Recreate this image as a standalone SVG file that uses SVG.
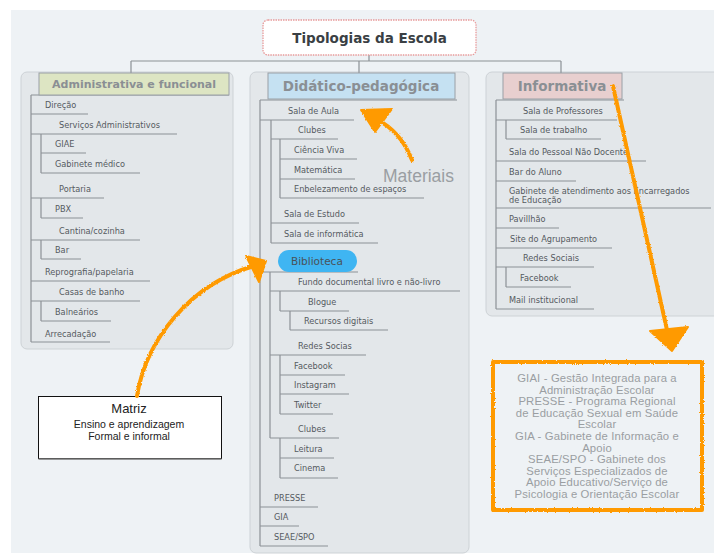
<svg xmlns="http://www.w3.org/2000/svg" width="714" height="554" viewBox="0 0 714 554">
<style>
.bg{fill:#ffffff}
.canvas{fill:#eef2f5}
.panel{fill:#e3e7ea;stroke:#cdd2d6;stroke-width:1}
.ln{stroke:#8c9196;stroke-width:1.2;fill:none}
.it{font-family:"DejaVu Sans","Liberation Sans",sans-serif;font-size:8.2px;fill:#555a5f}
.hd{font-family:"DejaVu Sans","Liberation Sans",sans-serif;font-weight:bold;fill:#8a8f94;text-anchor:middle}
.hbox{stroke:#9aa0a6;stroke-width:1}
.or{stroke:#ff9a00;stroke-width:4;fill:none;stroke-linecap:round;stroke-linejoin:round}
.orf{fill:#ff9a00;stroke:#ff9a00;stroke-width:2;stroke-linejoin:round}
.info{font-family:"Liberation Sans",Arial,sans-serif;font-size:11.3px;letter-spacing:0.15px;fill:#9a9ea2;text-anchor:middle}
.mz{font-family:"Liberation Sans",Arial,sans-serif;fill:#222;text-anchor:middle}
</style>
<defs>
<filter id="rough" filterUnits="userSpaceOnUse" x="0" y="0" width="714" height="554">
<feTurbulence type="fractalNoise" baseFrequency="0.9" numOctaves="2" seed="3" result="n"/>
<feDisplacementMap in="SourceGraphic" in2="n" scale="2.5" xChannelSelector="R" yChannelSelector="G"/>
</filter>
</defs>
<rect class="bg" x="0" y="0" width="714" height="554"/>
<rect class="canvas" x="11" y="10" width="703" height="543"/>

<g id="panels">
<rect class="panel" x="21" y="72" width="212" height="277" rx="6"/>
<rect class="panel" x="250" y="72" width="219" height="481" rx="6"/>
<rect class="panel" x="486" y="72" width="240" height="244" rx="6"/>
</g>

<g id="connectors">
<path class="ln" d="M369,55V61M131,61H561M131,61V73M359,61V73M561,61V73"/>
<path class="ln" d="M31,95H229M31,95V342
M31,114H88M31,134H177M41,134V173M41,153H86M41,173H140
M31,198H104M41,198V218M41,218H83
M31,240H140M41,240V259M41,259H81
M31,281H150M31,301H140M41,301V321M41,321H111M31,342H110"/>
<path class="ln" d="M260,100H457M260,100V546
M260,120H354M271,120V243M271,139H338M280,139V198M280,159H357M280,179H355M280,198H424
M271,223H359M271,243H378
M260,272H358M270,272V438M270,291H460M280,291V311M280,311H349M290,311V330M290,330H388
M270,355H366M280,355V414M280,375H345M280,394H349M280,414H333
M270,438H339M280,438V478M280,458H334M280,478H338
M260,507H318M260,526H299M260,546H328"/>
<path class="ln" d="M496,100H624M496,100V309
M496,120H617M506,120V139M506,139H601
M496,161H646M496,181H576M496,208H711M496,228H559M496,248H612
M496,267H594M506,267V287M506,287H571M496,309H594"/>
</g>

<g id="root">
<rect x="263" y="20" width="213" height="35" rx="5" fill="#ffffff" stroke="#e89a9a" stroke-width="1.3" stroke-dasharray="1.5 1"/>
<text x="369.5" y="42.5" font-family="DejaVu Sans, sans-serif" font-weight="bold" font-size="13.5" fill="#3a3f44" text-anchor="middle">Tipologias da Escola</text>
</g>

<g id="administrativa">
<rect class="hbox" x="39" y="73" width="190" height="22" fill="#dde5c3"/>
<text class="hd" x="134" y="88" font-size="11">Administrativa e funcional</text>
</g>
<g id="didatico">
<rect class="hbox" x="268" y="73" width="187" height="26" fill="#c5e1f2"/>
<text class="hd" x="361" y="91" font-size="13.5">Didático-pedagógica</text>
</g>
<g id="informativa">
<rect class="hbox" x="503" y="73" width="119" height="26" fill="#e8cfcf"/>
<text class="hd" x="562" y="91" font-size="13.5">Informativa</text>
</g>

<g id="admin-items">
<g id="n-direcao"><text class="it" x="45" y="108">Direção</text></g>
<g id="n-servicos"><text class="it" x="59" y="128">Serviços Administrativos</text></g>
<g id="n-giae"><text class="it" x="55" y="147">GIAE</text></g>
<g id="n-gabinete"><text class="it" x="55" y="167">Gabinete médico</text></g>
<g id="n-portaria"><text class="it" x="59" y="192">Portaria</text></g>
<g id="n-pbx"><text class="it" x="55" y="212">PBX</text></g>
<g id="n-cantina"><text class="it" x="59" y="233.5">Cantina/cozinha</text></g>
<g id="n-bar"><text class="it" x="55" y="253">Bar</text></g>
<g id="n-reprografia"><text class="it" x="45" y="275">Reprografia/papelaria</text></g>
<g id="n-casas"><text class="it" x="59" y="295">Casas de banho</text></g>
<g id="n-balnearios"><text class="it" x="55" y="315">Balneários</text></g>
<g id="n-arrecadacao"><text class="it" x="45" y="337">Arrecadação</text></g>
</g>

<g id="didatico-items">
<g id="n-sala-aula"><text class="it" x="288" y="114">Sala de Aula</text></g>
<g id="n-clubes1"><text class="it" x="298" y="133">Clubes</text></g>
<g id="n-ciencia"><text class="it" x="294" y="153">Ciência Viva</text></g>
<g id="n-matematica"><text class="it" x="294" y="173">Matemática</text></g>
<g id="n-enbelezamento"><text class="it" x="294" y="192">Enbelezamento de espaços</text></g>
<g id="n-sala-estudo"><text class="it" x="284" y="217">Sala de Estudo</text></g>
<g id="n-sala-info"><text class="it" x="284" y="237">Sala de informática</text></g>
<g id="n-biblioteca">
<rect x="278" y="250" width="79" height="22" rx="11" fill="#3fb5f2"/>
<text x="291" y="265" font-family="DejaVu Sans, sans-serif" font-size="10.5" fill="#4a5258">Biblioteca</text>
</g>
<g id="n-fundo"><text class="it" x="298" y="285">Fundo documental livro e não-livro</text></g>
<g id="n-blogue"><text class="it" x="308" y="305">Blogue</text></g>
<g id="n-recursos"><text class="it" x="304" y="324">Recursos digitais</text></g>
<g id="n-redes"><text class="it" x="298" y="349">Redes Socias</text></g>
<g id="n-facebook1"><text class="it" x="294" y="369">Facebook</text></g>
<g id="n-instagram"><text class="it" x="294" y="388">Instagram</text></g>
<g id="n-twitter"><text class="it" x="294" y="408">Twitter</text></g>
<g id="n-clubes2"><text class="it" x="298" y="432">Clubes</text></g>
<g id="n-leitura"><text class="it" x="294" y="452">Leitura</text></g>
<g id="n-cinema"><text class="it" x="294" y="471">Cinema</text></g>
<g id="n-presse"><text class="it" x="274" y="501">PRESSE</text></g>
<g id="n-gia"><text class="it" x="274" y="520">GIA</text></g>
<g id="n-seae"><text class="it" x="274" y="540">SEAE/SPO</text></g>
<g id="n-materiais"><text x="383" y="182" font-family="Liberation Sans, Arial, sans-serif" font-size="17.5" fill="#9a9ea2">Materiais</text></g>
</g>

<g id="informativa-items">
<g id="n-professores"><text class="it" x="523" y="114">Sala de Professores</text></g>
<g id="n-trabalho"><text class="it" x="520" y="133">Sala de trabalho</text></g>
<g id="n-pessoal"><text class="it" x="509" y="155">Sala do Pessoal Não Docente</text></g>
<g id="n-bar-aluno"><text class="it" x="509" y="175">Bar do Aluno</text></g>
<g id="n-gab-atend"><text class="it" x="509" y="193.5">Gabinete de atendimento aos Encarregados</text><text class="it" x="509" y="202.8">de Educação</text></g>
<g id="n-pavilhao"><text class="it" x="509" y="222">Pavillhão</text></g>
<g id="n-site"><text class="it" x="510" y="242">Site do Agrupamento</text></g>
<g id="n-redes-sociais"><text class="it" x="523" y="261">Redes Sociais</text></g>
<g id="n-facebook2"><text class="it" x="520" y="281">Facebook</text></g>
<g id="n-mail"><text class="it" x="509" y="303">Mail institucional</text></g>
</g>

<g id="matriz">
<rect x="38.5" y="396.5" width="183" height="62" fill="#ffffff" stroke="#111" stroke-width="1"/>
<line x1="38.5" y1="459" x2="221.5" y2="459" stroke="#777" stroke-width="1.5"/>
<text class="mz" x="129" y="413" font-size="13">Matriz</text>
<text class="mz" x="129" y="427.5" font-size="10.5">Ensino e aprendizagem</text>
<text class="mz" x="129" y="439.5" font-size="10.5">Formal e informal</text>
</g>

<g id="info-box">
<rect class="or" x="493" y="362" width="209" height="148" filter="url(#rough)"/>
<text class="info" x="597" y="382">GIAI - Gestão Integrada para a</text>
<text class="info" x="597" y="393.6">Administração Escolar</text>
<text class="info" x="597" y="405.2">PRESSE - Programa Regional</text>
<text class="info" x="597" y="416.8">de Educação Sexual em Saúde</text>
<text class="info" x="597" y="428.4">Escolar</text>
<text class="info" x="597" y="440">GIA - Gabinete de Informação e</text>
<text class="info" x="597" y="451.6">Apoio</text>
<text class="info" x="597" y="463.2">SEAE/SPO - Gabinete dos</text>
<text class="info" x="597" y="474.8">Serviços Especializados de</text>
<text class="info" x="597" y="486.4">Apoio Educativo/Serviço de</text>
<text class="info" x="597" y="498">Psicologia e Orientação Escolar</text>
</g>

<g id="orange-arrows" filter="url(#rough)">
<path class="or" d="M137,396 C146,340 190,284 254,266"/>
<polygon class="orf" points="246,256 266,261 259,282"/>
<path class="or" d="M412,160 C405,142 394,128 376,119"/>
<polygon class="orf" points="361,110 392,109 375,132"/>
<path class="or" d="M613,86 L667,330"/>
<polygon class="orf" points="650,331 688,327 672,351"/>
</g>
</svg>
